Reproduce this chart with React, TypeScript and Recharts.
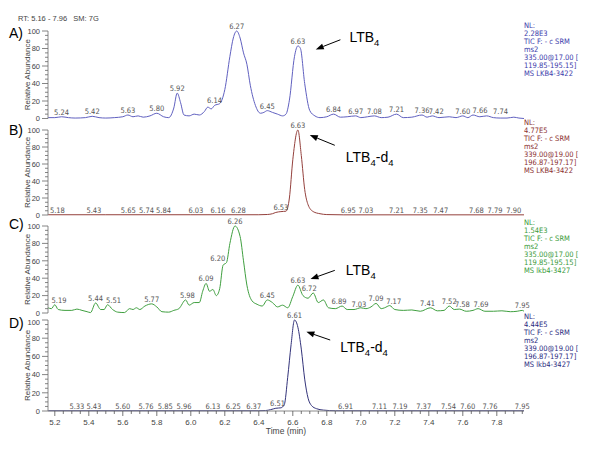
import { ComposedChart, Line, XAxis, YAxis, ReferenceDot, ReferenceLine } from "recharts";

const FONT = "'Liberation Sans', Arial, sans-serif";
const NARROW = "'Liberation Sans Narrow', 'Arial Narrow', 'DejaVu Sans Condensed', Arial, sans-serif";

// Panel A — LTB4, sample lkb4-3422
const timesA = [
  5.16, 5.2, 5.24, 5.28, 5.32, 5.38, 5.42, 5.46, 5.5, 5.55,
  5.6, 5.63, 5.66, 5.69, 5.72, 5.76, 5.8, 5.84, 5.87, 5.9,
  5.92, 5.94, 5.96, 5.99, 6.02, 6.05, 6.08, 6.1, 6.12, 6.14,
  6.17, 6.2, 6.23, 6.25, 6.27, 6.29, 6.31, 6.33, 6.35, 6.38,
  6.41, 6.43, 6.45, 6.48, 6.51, 6.54, 6.56, 6.58, 6.61, 6.63,
  6.645, 6.67, 6.7, 6.73, 6.76, 6.8, 6.84, 6.88, 6.92, 6.97,
  7.0, 7.04, 7.08, 7.12, 7.16, 7.21, 7.25, 7.3, 7.36, 7.39,
  7.42, 7.46, 7.52, 7.56, 7.6, 7.63, 7.66, 7.7, 7.74, 7.78,
  7.82, 7.86, 7.9, 7.93, 7.96,
];
const abundA = [
  1, 1, 2, 1, 0.5, 1, 2.5, 1, 0.5, 1,
  2, 4, 2, 3, 1.5, 3, 6, 2, 1, 12,
  29, 18, 4, 3, 5, 4, 8, 13, 11, 15,
  17, 33, 71, 92, 100, 92, 75, 62, 38, 15,
  6, 7, 9, 7, 5, 3, 5, 21, 71, 83,
  80, 40, 9, 3, 1, 2, 5, 1.5, 2, 3,
  1, 2, 3, 1, 1.5, 5, 1, 1.5, 4, 1.5,
  3, 1, 2, 1, 3, 1, 4, 2, 3, 1,
  0.5, 0.5, 1.5, 0.5, 0,
];
const peaksA = ["5.24", "5.42", "5.63", "5.80", "5.92", "6.14", "6.27", "6.45", "6.63", "6.84", "6.97", "7.08", "7.21", "7.36", "7.42", "7.60", "7.66", "7.74"];
const peakHtA = [2, 2.5, 4, 6, 29, 15, 100, 9, 83, 5, 3, 3, 5, 4, 3, 3, 4, 3];

// Panel B — LTB4-d4, sample lkb4-3422
const timesB = [5.16, 5.5, 6.0, 6.4, 6.45, 6.48, 6.5, 6.53, 6.56, 6.58, 6.6, 6.63, 6.65, 6.67, 6.69, 6.72, 6.76, 6.8, 6.9, 7.96];
const abundB = [0.3, 0.3, 0.3, 0.3, 0.6, 1.5, 3, 4, 4.5, 20, 65, 100, 70, 30, 12, 4, 1.5, 0.5, 0.2, 0.2];
const peaksB = ["5.18", "5.43", "5.65", "5.74", "5.84", "6.03", "6.16", "6.28", "6.53", "6.63", "6.95", "7.03", "7.21", "7.35", "7.47", "7.68", "7.79", "7.90"];
const peakHtB = [0.3, 0.3, 0.3, 0.3, 0.3, 0.3, 0.3, 0.3, 4, 100, 0.3, 0.3, 0.3, 0.3, 0.3, 0.3, 0.3, 0.3];

// Panel C — LTB4, sample lkb4-3427
const timesC = [
  5.16, 5.18, 5.2, 5.22, 5.26, 5.3, 5.33, 5.36, 5.39, 5.41,
  5.44, 5.47, 5.49, 5.51, 5.54, 5.57, 5.61, 5.64, 5.66, 5.68,
  5.7, 5.73, 5.77, 5.8, 5.83, 5.87, 5.9, 5.93, 5.97, 5.99,
  6.02, 6.05, 6.07, 6.09, 6.11, 6.13, 6.15, 6.17, 6.19, 6.21,
  6.23, 6.26, 6.29, 6.31, 6.33, 6.36, 6.39, 6.42, 6.45, 6.48,
  6.51, 6.54, 6.57, 6.6, 6.63, 6.66, 6.69, 6.72, 6.75, 6.78,
  6.81, 6.85, 6.89, 6.92, 6.96, 7.0, 7.03, 7.06, 7.09, 7.12,
  7.14, 7.17, 7.2, 7.25, 7.3, 7.35, 7.41, 7.45, 7.49, 7.52,
  7.55, 7.58, 7.62, 7.66, 7.69, 7.73, 7.78, 7.83, 7.88, 7.92,
  7.95, 7.96,
];
const abundC = [
  6, 5, 9.5, 4, 3, 3, 4.5, 3, 1.5, 0.5,
  11.5, 4, 4, 9.5, 4, 1, 0.5, 5, 4, 6,
  4, 8, 10.5, 7, 1.5, 1, 3, 5, 15, 9,
  12, 12, 25, 34, 25, 27, 20, 28, 55, 58,
  80, 100, 88, 60, 32, 14, 10, 8, 15, 12,
  7, 9, 6, 19, 32, 20, 17, 23, 12, 15,
  6, 5, 8, 4, 4, 6, 5, 7, 11, 5,
  6, 8.5, 4, 3, 3.5, 2, 6, 2.5, 3, 8,
  4, 4.5, 2, 3, 5, 2, 2, 2.5, 1.5, 2,
  3, 2,
];
const peaksC = ["5.19", "5.44", "5.51", "5.77", "5.98", "6.09", "6.20", "6.26", "6.45", "6.63", "6.72", "6.89", "7.03", "7.09", "7.17", "7.41", "7.52", "7.58", "7.69", "7.95"];
const peakHtC = [9.5, 11.5, 9.5, 10.5, 15, 34, 58, 100, 15, 32, 23, 8, 5, 11, 8.5, 6, 8, 4.5, 5, 3];

// Panel D — LTB4-d4, sample lkb4-3427
const timesD = [5.16, 5.6, 6.0, 6.4, 6.44, 6.47, 6.5, 6.53, 6.55, 6.57, 6.59, 6.61, 6.63, 6.65, 6.67, 6.69, 6.71, 6.74, 6.78, 6.85, 7.96];
const abundD = [0.3, 0.3, 0.3, 0.3, 0.5, 1.5, 3, 3.5, 7, 37, 73, 100, 92, 68, 35, 14, 6, 2.5, 1, 0.3, 0.3];
const peaksD = ["5.33", "5.43", "5.60", "5.76", "5.85", "5.96", "6.13", "6.25", "6.37", "6.51", "6.61", "6.91", "7.11", "7.19", "7.37", "7.54", "7.60", "7.76", "7.95"];
const peakHtD = [0.3, 0.3, 0.3, 0.3, 0.3, 0.3, 0.3, 0.3, 0.3, 3.5, 100, 0.3, 0.3, 0.3, 0.3, 0.3, 0.3, 0.3, 0.3];

const yTicks = [0, 5, 10, 15, 20, 25, 30, 35, 40, 45, 50, 55, 60, 65, 70, 75, 80, 85, 90, 95, 100];
const xTicks = [
  5.2, 5.25, 5.3, 5.35, 5.4, 5.45, 5.5, 5.55, 5.6, 5.65, 5.7, 5.75, 5.8, 5.85, 5.9, 5.95,
  6.0, 6.05, 6.1, 6.15, 6.2, 6.25, 6.3, 6.35, 6.4, 6.45, 6.5, 6.55, 6.6, 6.65, 6.7, 6.75,
  6.8, 6.85, 6.9, 6.95, 7.0, 7.05, 7.1, 7.15, 7.2, 7.25, 7.3, 7.35, 7.4, 7.45, 7.5, 7.55,
  7.6, 7.65, 7.7, 7.75, 7.8, 7.85, 7.9, 7.95,
];

const infoA = ["NL:", "2.28E3", "TIC F: - c SRM", "ms2", "335.00@17.00 [", "119.85-195.15]", "MS LKB4-3422"];
const infoB = ["NL:", "4.77E5", "TIC F: - c SRM", "ms2", "339.00@19.00 [", "196.87-197.17]", "MS LKB4-3422"];
const infoC = ["NL:", "1.54E3", "TIC F: - c SRM", "ms2", "335.00@17.00 [", "119.85-195.15]", "MS lkb4-3427"];
const infoD = ["NL:", "4.44E5", "TIC F: - c SRM", "ms2", "339.00@19.00 [", "196.87-197.17]", "MS lkb4-3427"];

// small sideways nudges the instrument software applies to crowded peak labels (px)
const nudgeA: Record<string, number> = { "7.42": 4, "7.66": 7, "7.74": 14 };
const nudgeB: Record<string, number> = { "5.18": 6, "5.65": -3, "6.95": -4 };
const nudgeC: Record<string, number> = {
  "5.19": 6, "5.51": 6, "6.20": -7, "6.72": -4, "6.89": -3, "7.03": -7, "7.17": 4, "7.41": -3, "7.58": 3, "7.69": 3,
};
const nudgeD: Record<string, number> = { "5.76": -4, "7.54": -4, "7.60": 5, "7.19": 7 };

const makeYTick = (topDy: number) => (p: any) => {
  const { x, y, payload } = p;
  const major = payload.value % 20 === 0;
  return (
    <g>
      <line x1={x - (major ? 6 : 3)} x2={x} y1={y} y2={y} stroke="#666" strokeWidth={0.8} />
      {major && (
        <text
          x={x - 8}
          y={y}
          dy={2.7 + (payload.value === 100 ? topDy : 0)}
          textAnchor="end"
          fontSize={7.5}
          fill="#444"
          fontFamily={FONT}
        >
          {payload.value}
        </text>
      )}
    </g>
  );
};

const XTick = (p: any) => {
  const { x, y, payload } = p;
  const v = payload.value;
  const major = Math.round(v * 100) % 20 === 0;
  return (
    <g>
      <line x1={x} x2={x} y1={y} y2={y + (major ? 5 : 3)} stroke="#555" strokeWidth={0.8} />
      {major && (
        <text x={x} y={y + 14} textAnchor="middle" fontSize={8} fill="#444" fontFamily={FONT}>
          {v.toFixed(1)}
        </text>
      )}
    </g>
  );
};

function arrowShape(deut: boolean, dx: number, dy: number) {
  return (p: any) => {
    const { x1, y1, x2, y2 } = p;
    const a = Math.atan2(y2 - y1, x2 - x1);
    const bx = x2 - 8 * Math.cos(a);
    const by = y2 - 8 * Math.sin(a);
    const nx = -Math.sin(a) * 3;
    const ny = Math.cos(a) * 3;
    return (
      <g>
        <line x1={x1} y1={y1} x2={bx} y2={by} stroke="#000" strokeWidth={1} />
        <polygon points={`${x2},${y2} ${bx + nx},${by + ny} ${bx - nx},${by - ny}`} fill="#000" />
        <text x={x1 + dx} y={y1 + dy} fontSize={14} fill="#000" fontFamily={FONT}>
          LTB<tspan fontSize={9.5} dy={4}>4</tspan>
          {deut && (
            <>
              <tspan dy={-4}>-d</tspan>
              <tspan fontSize={9.5} dy={4}>4</tspan>
            </>
          )}
        </text>
      </g>
    );
  };
}

type PanelProps = {
  times: number[];
  abund: number[];
  peaks: string[];
  peakHt: number[];
  nudge: Record<string, number>;
  color: string;
  plotTop: number;
  plotH: number;
  showX?: boolean;
  topTickDy?: number;
  arrow: { from: [number, number]; to: [number, number]; deut: boolean; dx: number; dy: number };
};

function Panel({ times, abund, peaks, peakHt, nudge, color, plotTop, plotH, showX, topTickDy = 0, arrow }: PanelProps) {
  const data = times.map((t, i) => ({ t, v: abund[i] }));
  const MT = 14;
  const MB = 6;
  const xH = showX ? 26 : 0;
  return (
    <div style={{ position: "absolute", left: 0, top: plotTop - MT }}>
      <ComposedChart width={600} height={MT + plotH + xH + MB} margin={{ top: MT, right: 76, bottom: MB, left: 0 }}>
        <XAxis
          dataKey="t"
          type="number"
          domain={[5.16, 7.96]}
          allowDataOverflow
          ticks={showX ? xTicks : []}
          interval={0}
          tick={showX ? XTick : false}
          tickLine={false}
          tickSize={0}
          tickMargin={0}
          axisLine={{ stroke: "#8a8a8a" }}
          height={xH}
          label={
            showX
              ? { value: "Time (min)", position: "insideBottom", offset: 3, fontSize: 8.5, fill: "#444", fontFamily: FONT }
              : undefined
          }
        />
        <YAxis
          type="number"
          domain={[0, 100]}
          ticks={yTicks}
          interval={0}
          tick={makeYTick(topTickDy)}
          tickLine={false}
          tickSize={0}
          tickMargin={0}
          axisLine={{ stroke: "#8a8a8a" }}
          width={48}
          label={{
            value: "Relative Abundance",
            angle: -90,
            position: "insideLeft",
            offset: 27,
            fontSize: 8,
            fill: "#444",
            fontFamily: FONT,
            style: { textAnchor: "middle" },
          }}
        />
        <Line
          data={data}
          dataKey="v"
          type="monotone"
          stroke={color}
          strokeWidth={1}
          dot={false}
          isAnimationActive={false}
        />
        {peaks.map((lbl, i) => (
          <ReferenceDot
            key={lbl + i}
            x={parseFloat(lbl)}
            y={peakHt[i]}
            r={0}
            stroke="none"
            fill="none"
            label={{
              value: lbl,
              position: "top",
              offset: 2,
              dx: nudge[lbl] || 0,
              fontSize: 7.5,
              fill: "#555",
              fontFamily: NARROW,
            }}
          />
        ))}
        <ReferenceLine
          segment={[
            { x: arrow.from[0], y: arrow.from[1] },
            { x: arrow.to[0], y: arrow.to[1] },
          ]}
          shape={arrowShape(arrow.deut, arrow.dx, arrow.dy)}
        />
      </ComposedChart>
    </div>
  );
}

function Info({ lines, x, y, color }: { lines: string[]; x: number; y: number; color: string }) {
  return (
    <text x={x} y={y} fontSize={7.5} fill={color} fontFamily={NARROW}>
      {lines.map((l, i) => (
        <tspan key={i} x={x} dy={i === 0 ? 0 : 8}>
          {l}
        </tspan>
      ))}
    </text>
  );
}

export default function App() {
  return (
    <div style={{ position: "absolute", left: 0, top: 0, width: 600, height: 450, background: "#fff", fontFamily: FONT }}>
      <Panel
        times={timesA}
        abund={abundA}
        peaks={peaksA}
        peakHt={peakHtA}
        nudge={nudgeA}
        color="#6060c0"
        plotTop={31}
        plotH={87.5}
        arrow={{ from: [6.88, 90], to: [6.735, 79], deut: false, dx: 9, dy: 2 }}
      />
      <Panel
        times={timesB}
        abund={abundB}
        peaks={peaksB}
        peakHt={peakHtB}
        nudge={nudgeB}
        color="#94403c"
        plotTop={130}
        plotH={85}
        arrow={{ from: [6.847, 82], to: [6.7, 94], deut: true, dx: 11, dy: 17 }}
      />
      <Panel
        times={timesC}
        abund={abundC}
        peaks={peaksC}
        peakHt={peakHtC}
        nudge={nudgeC}
        color="#3f9f3f"
        plotTop={226}
        plotH={87}
        arrow={{ from: [6.847, 49], to: [6.704, 39], deut: false, dx: 11, dy: 5 }}
      />
      <Panel
        times={timesD}
        abund={abundD}
        peaks={peaksD}
        peakHt={peakHtD}
        nudge={nudgeD}
        color="#33337a"
        plotTop={320}
        plotH={91}
        showX
        topTickDy={2.5}
        arrow={{ from: [6.82, 78], to: [6.68, 87], deut: true, dx: 10, dy: 12 }}
      />
      <svg width={600} height={450} style={{ position: "absolute", left: 0, top: 0, pointerEvents: "none" }}>
        <text x={18} y={21} fontSize={7.5} fill="#444" fontFamily={FONT}>
          RT: 5.16 - 7.96{"\u00a0\u00a0\u00a0"}SM: 7G
        </text>
        <text x={9} y={38} fontSize={14} fill="#000" fontFamily={FONT}>A)</text>
        <text x={9} y={135} fontSize={14} fill="#000" fontFamily={FONT}>B)</text>
        <text x={9} y={229} fontSize={14} fill="#000" fontFamily={FONT}>C)</text>
        <text x={9} y={328} fontSize={14} fill="#000" fontFamily={FONT}>D)</text>
        <Info lines={infoA} x={524} y={27.5} color="#3b3bab" />
        <Info lines={infoB} x={524} y={124.5} color="#8a2f2f" />
        <Info lines={infoC} x={524} y={224.5} color="#3a9a3a" />
        <Info lines={infoD} x={524} y={318.5} color="#2a2a80" />
      </svg>
    </div>
  );
}
